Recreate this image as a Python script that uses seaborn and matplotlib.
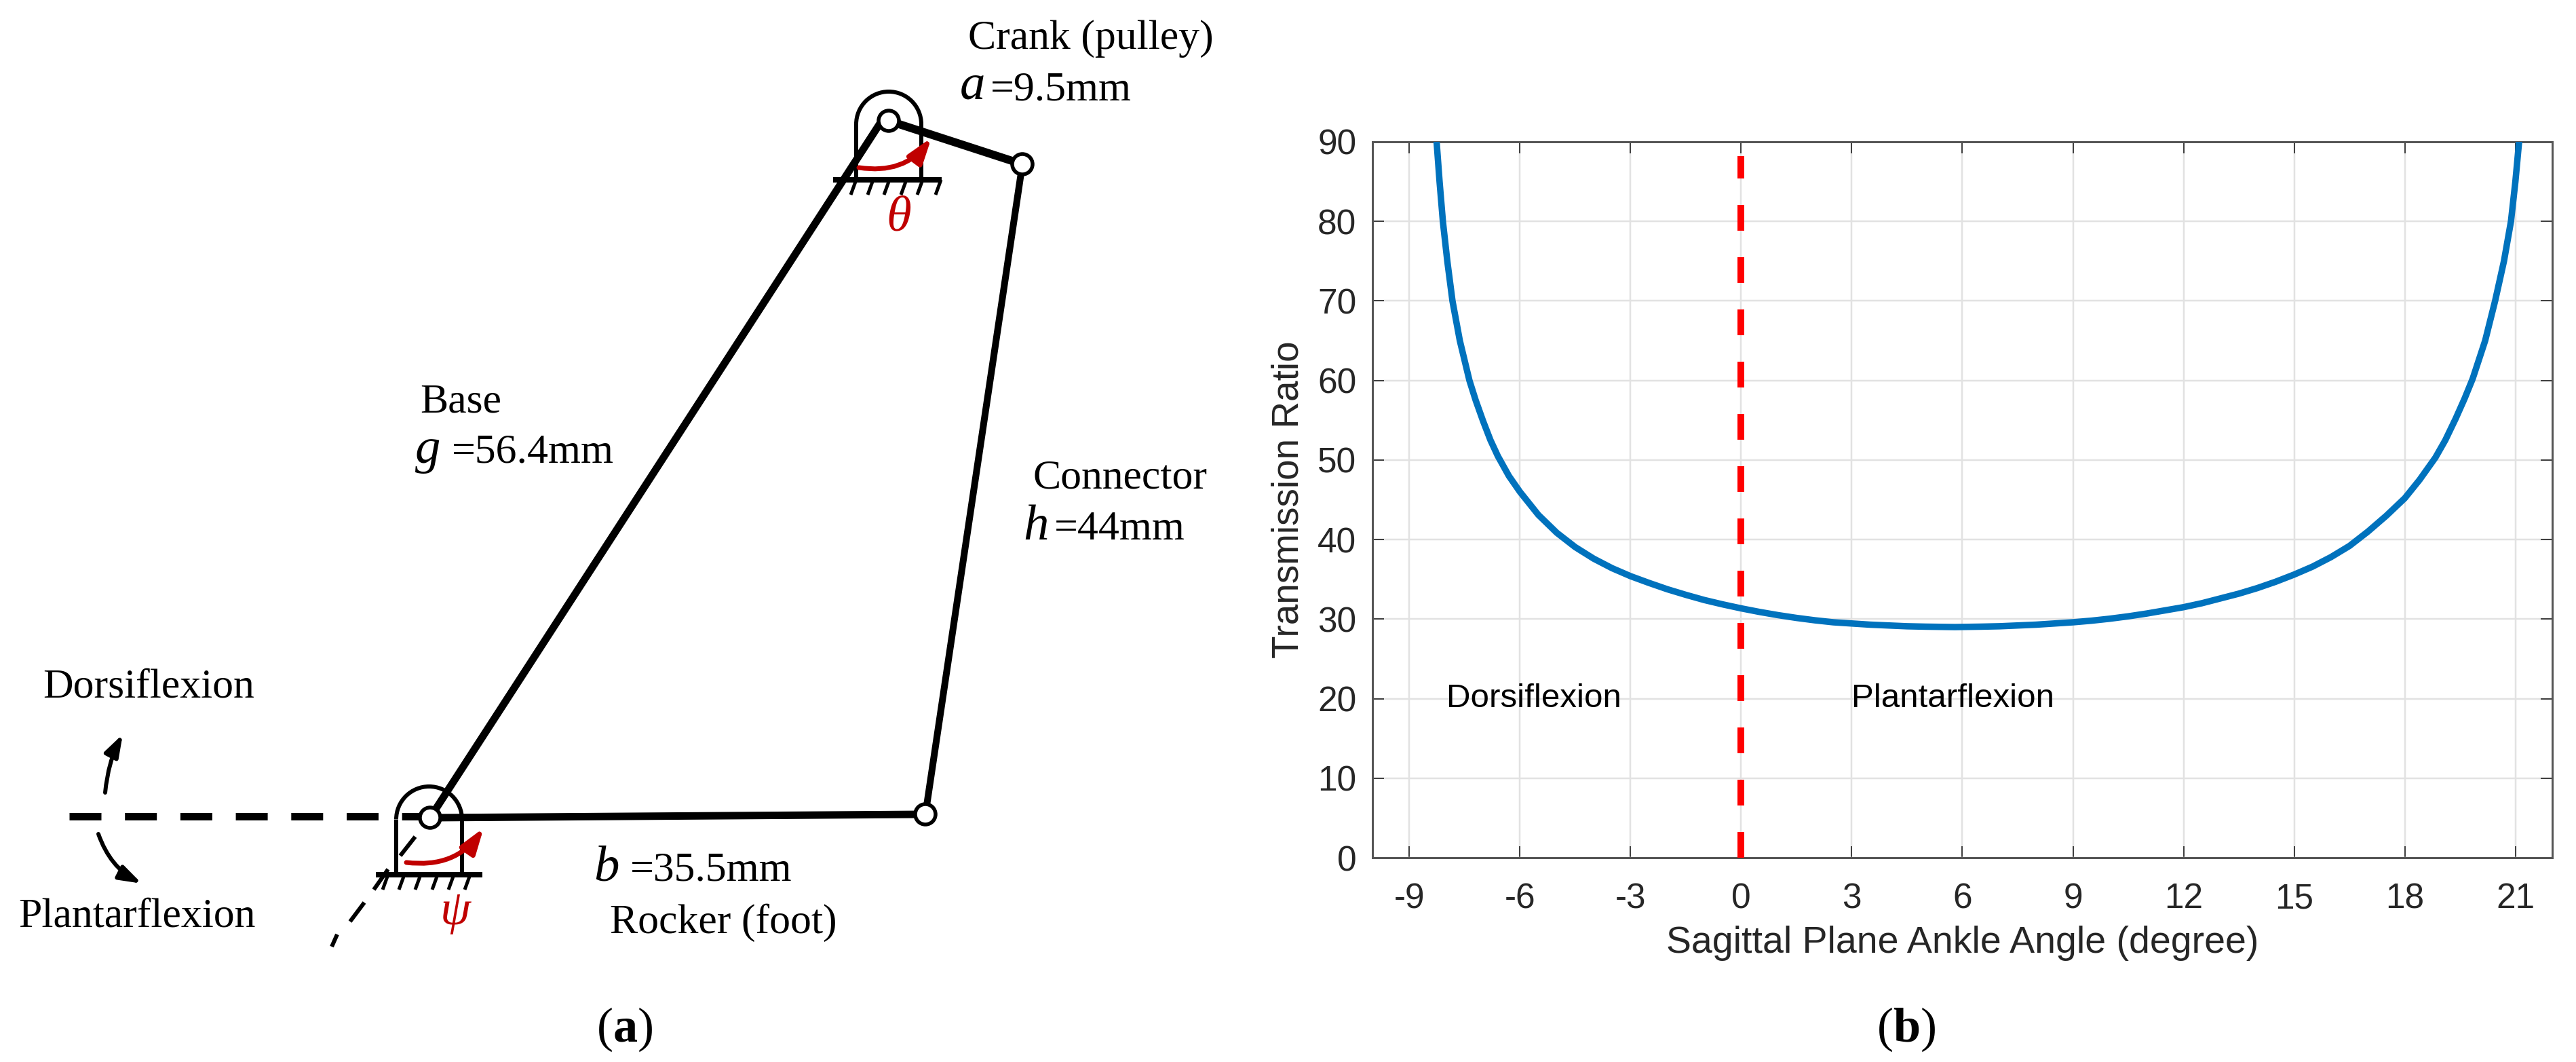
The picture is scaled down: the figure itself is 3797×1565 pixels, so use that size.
import seaborn as sns
import pandas as pd
import matplotlib
matplotlib.use('Agg')
import matplotlib.pyplot as plt
from matplotlib.patches import Arc, Circle, FancyArrowPatch

# curve
angle = [-8.26, -8.18, -8.09, -7.97, -7.83, -7.63, -7.37, -7.2, -7.0, -6.8, -6.6, -6.3, -6.0, -5.5, -5.0,
         -4.5, -4.0, -3.5, -3.0, -2.5, -2.0, -1.5, -1.0, -0.5, 0.0, 0.5, 1.0, 1.5, 2.0, 2.5, 3.0, 3.5, 4.0,
         4.5, 5.0, 5.8, 6.5, 7.0, 7.5, 8.0, 8.5, 9.0, 9.5, 10.0, 10.5, 11.0, 11.5, 12.0, 12.5, 13.0, 13.5, 14.0,
         14.5, 15.0, 15.5, 16.0, 16.5, 17.0, 17.5, 18.0, 18.4, 18.83, 19.1, 19.38, 19.62, 19.84, 20.18, 20.45,
         20.69, 20.88, 21.0, 21.1]
ratio = [90.0, 85.0, 80.0, 75.0, 70.0, 65.0, 60.0, 57.5, 54.9, 52.5, 50.5, 48.0, 46.0, 43.1, 40.85,
         39.05, 37.6, 36.4, 35.4, 34.55, 33.75, 33.05, 32.4, 31.85, 31.35, 30.9, 30.5, 30.15, 29.85, 29.6, 29.45, 29.3, 29.2,
         29.1, 29.05, 29.0, 29.05, 29.1, 29.2, 29.3, 29.45, 29.6, 29.8, 30.05, 30.35, 30.7, 31.1, 31.5, 32.0, 32.6, 33.2, 33.9,
         34.7, 35.6, 36.6, 37.8, 39.2, 41.0, 43.0, 45.2, 47.5, 50.3, 52.5, 55.2, 57.7, 60.2, 65.0, 70.0,
         75.0, 80.0, 85.0, 90.0]
x_ticks = [-9, -6, -3, 0, 3, 6, 9, 12, 15, 18, 21]
y_ticks = [0, 10, 20, 30, 40, 50, 60, 70, 80, 90]

# joints of the linkage in panel (a), picture pixels
rocker_pivot = (634, 1205)
rocker_end = (1364, 1200)
crank_pivot = (1310, 178)
crank_end = (1507, 242)
base_top = (1297, 182)

W, H = 3798, 1565
PT = 0.72  # points per pixel at dpi 100
SERIF = 'Liberation Serif'
SANS = 'Liberation Sans'

sns.set_style('white')
plt.rcParams['font.family'] = [SANS, 'DejaVu Sans']
plt.rcParams['axes.unicode_minus'] = False
plt.rcParams['mathtext.fontset'] = 'custom'
plt.rcParams['mathtext.bf'] = SERIF + ':bold'
plt.rcParams['mathtext.rm'] = SERIF

fig = plt.figure(figsize=(W / 100, H / 100), dpi=100)

# panel (a), drawn in picture pixels
sk = fig.add_axes([0, 0, 1, 1])
sk.set_xlim(0, W)
sk.set_ylim(H, 0)
sk.axis('off')


def link(p, q, w, color='black', **kw):
    sk.plot([p[0], q[0]], [p[1], q[1]], color=color, lw=w * PT, solid_capstyle='butt', **kw)


def support(left, right, top, ground, x0, x1, hatches):
    cx = (left + right) / 2
    r = (right - left) / 2
    sk.add_patch(Arc((cx, top + r), 2 * r, 2 * r, theta1=180, theta2=360, color='black', lw=6 * PT))
    link((left, top + r), (left, ground), 6)
    link((right, top + r), (right, ground), 6)
    link((x0, ground), (x1, ground), 8)
    for hx in hatches:
        link((hx, ground), (hx - 8, ground + 22), 5)


def pin(p, r=15):
    sk.add_patch(Circle(p, r, facecolor='white', edgecolor='black', lw=5.5 * PT, zorder=5))


def curved(p, q, rad, w, color, head):
    sk.add_patch(FancyArrowPatch(p, q, connectionstyle='arc3,rad=%g' % rad, color=color, lw=w * PT,
                                 arrowstyle='-|>,head_length=1.5,head_width=0.5', mutation_scale=head,
                                 shrinkA=0, shrinkB=0, zorder=4))


def label(x, y, s, size=44.5, style='normal', color='black', ha='left'):
    sk.text(x, y, s, family=SERIF, fontsize=size, style=style, color=color, ha=ha, va='baseline')


link(rocker_pivot, base_top, 11)
link(rocker_pivot, rocker_end, 11)
link(crank_end, rocker_end, 10)
link(crank_pivot, crank_end, 12)

support(1262, 1358, 135, 265, 1228, 1388, [1262, 1287, 1311, 1336, 1360, 1387])
support(584, 681, 1159, 1289, 554, 711, [572, 596, 620, 645, 669, 693])

# dashed reference lines
sk.plot([102, 622], [1203, 1203], color='black', lw=11 * PT, dash_capstyle='butt', linestyle=(0, (47 / 11, 34.7 / 11)))
for p, q in [((612, 1233), (590, 1261)), ((572, 1281), (551, 1311)),
             ((537, 1330), (516, 1358)), ((497, 1377), (489, 1395))]:
    link(p, q, 6)

for p in [rocker_pivot, rocker_end, crank_pivot, crank_end]:
    pin(p)

curved((1266, 247), (1373, 203), 0.3, 7, '#C00000', 15)
curved((599, 1271), (713, 1220), 0.3, 7, '#C00000', 15)
curved((155, 1168), (181, 1082), -0.1, 6, 'black', 13)
curved((145, 1229), (209, 1302), 0.2, 6, 'black', 13)

label(1427, 72, 'Crank (pulley)')
label(1415, 145, 'a', 54, 'italic')
label(1460, 147, '=9.5mm')
label(619, 607, 'Base')
label(612, 682, 'g', 54, 'italic')
label(666, 682, '=56.4mm')
label(1523, 720, 'Connector')
label(1508, 795, 'h', 54, 'italic')
label(1554, 795, '=44mm')
label(63, 1028, 'Dorsiflexion')
label(27, 1365, 'Plantarflexion')
label(875, 1298, 'b', 54, 'italic')
label(929, 1298, '=35.5mm')
label(899, 1375, 'Rocker (foot)')
label(1306, 339, '\u03b8', 54, 'italic', '#C00000')
label(649, 1362, '\u03c8', 52, 'italic', '#C00000')
label(921, 1535, r'($\mathbf{a}$)', 52, ha='center')
label(2810, 1535, r'($\mathbf{b}$)', 52, ha='center')

# panel (b)
ax = fig.add_axes([2023 / W, 1 - 1264 / H, (3762 - 2023) / W, (1264 - 209) / H])
ax.patch.set_alpha(0)
df = pd.DataFrame({'angle': angle, 'ratio': ratio})
sns.lineplot(data=df, x='angle', y='ratio', estimator=None, sort=False, color='#0072BD', lw=9.5 * PT, ax=ax, zorder=3)
ax.plot([0, 0], [0, 88.2], color='#FF0000', lw=10 * PT, dash_capstyle='butt', linestyle=(0, (3.8, 3.9)), zorder=4)
ax.set_xlim(-10, 22)
ax.set_ylim(0, 90)
ax.set_xticks(x_ticks)
ax.set_yticks(y_ticks)
ax.grid(True, color='#E2E2E2', lw=2.5 * PT)
ax.set_axisbelow(True)
ax.tick_params(direction='in', length=17 * PT, width=2 * PT, color='#404040', labelcolor='#262626',
               top=True, right=True, bottom=True, left=True, labelsize=37)
ax.tick_params(axis='x', pad=26)
ax.tick_params(axis='y', pad=17)
for s in ax.spines.values():
    s.set_color('#555555')
    s.set_linewidth(3 * PT)
ax.set_xlabel('Sagittal Plane Ankle Angle (degree)', fontsize=40, color='#262626', labelpad=11)
ax.set_ylabel('Transmission Ratio', fontsize=39.5, color='#262626', labelpad=12)
ax.text(-8, 20, 'Dorsiflexion', fontsize=35.5, color='black', va='center')
ax.text(3, 20, 'Plantarflexion', fontsize=35.5, color='black', va='center')

fig.savefig('out.png', dpi=100)
